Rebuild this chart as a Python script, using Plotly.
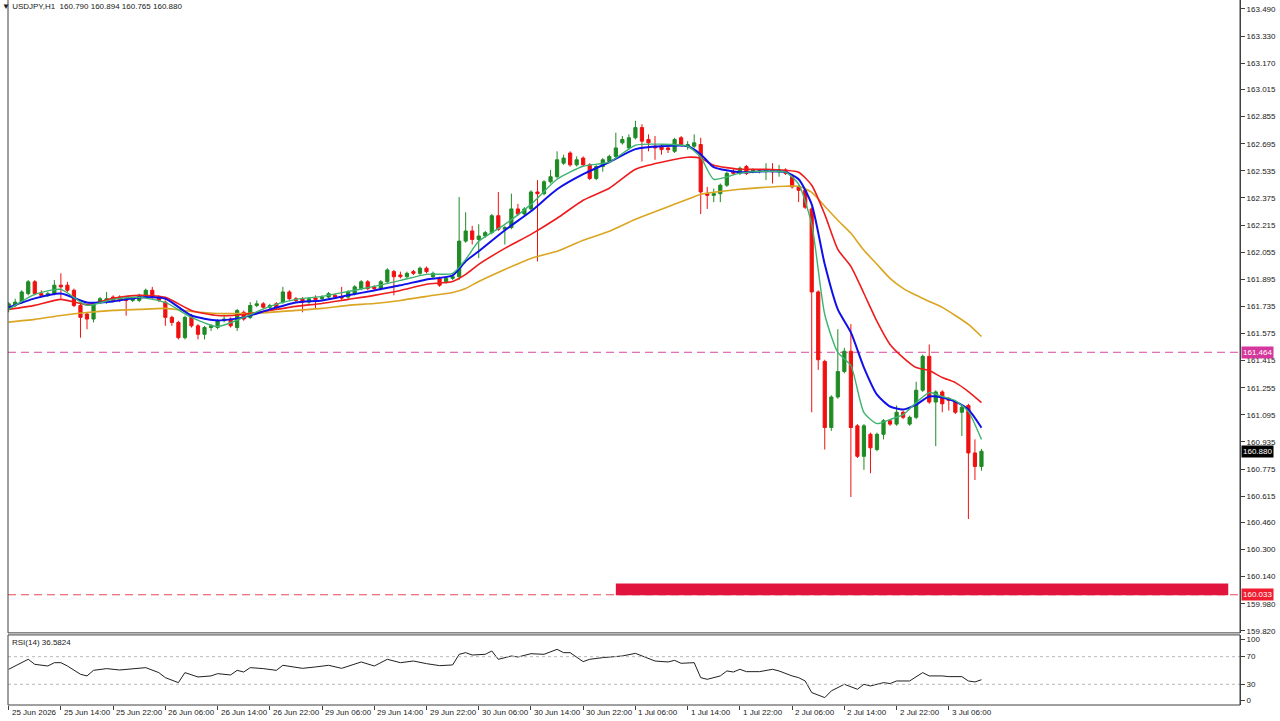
import plotly.graph_objects as go

# ---------------- data ----------------
tick_idx = [0, 8, 16, 24, 32, 40, 48, 56, 64, 72, 80, 88, 96, 104, 112, 120, 128, 136, 144]
tick_text = ["25 Jun 2026", "25 Jun 14:00", "25 Jun 22:00", "26 Jun 06:00", "26 Jun 14:00",
             "26 Jun 22:00", "29 Jun 06:00", "29 Jun 14:00", "29 Jun 22:00", "30 Jun 06:00",
             "30 Jun 14:00", "30 Jun 22:00", "1 Jul 06:00", "1 Jul 14:00", "1 Jul 22:00",
             "2 Jul 06:00", "2 Jul 14:00", "2 Jul 22:00", "3 Jul 06:00"]

open_ = [161.72, 161.74, 161.76, 161.81, 161.88, 161.81, 161.80, 161.81, 161.86, 161.86,
         161.83, 161.74, 161.69, 161.66, 161.76, 161.77, 161.79, 161.79, 161.78, 161.77,
         161.77, 161.79, 161.83, 161.79, 161.76, 161.67, 161.64, 161.55, 161.68, 161.62,
         161.57, 161.61, 161.61, 161.65, 161.66, 161.61, 161.70, 161.67, 161.74, 161.75,
         161.73, 161.75, 161.76, 161.82, 161.78, 161.78, 161.76, 161.785, 161.78, 161.79,
         161.80, 161.79, 161.79, 161.81, 161.84, 161.88, 161.85, 161.84, 161.88, 161.94,
         161.92, 161.91, 161.94, 161.93, 161.96, 161.91, 161.90, 161.88, 161.90, 161.91,
         162.12, 162.18, 162.13, 162.15, 162.17, 162.27, 162.19, 162.20, 162.31, 162.28,
         162.31, 162.41, 162.40, 162.47, 162.50, 162.58, 162.64, 162.57, 162.61, 162.57,
         162.49, 162.56, 162.59, 162.62, 162.70, 162.67, 162.73, 162.79, 162.72, 162.68,
         162.68, 162.67, 162.65, 162.73, 162.68, 162.68, 162.69, 162.40, 162.39, 162.40,
         162.45, 162.53, 162.52, 162.56, 162.53, 162.53, 162.53, 162.54, 162.53, 162.54,
         162.50, 162.44, 162.42, 162.31, 161.82, 161.41, 161.02, 161.20, 161.35, 161.47,
         161.03, 160.85, 160.98, 160.89, 160.98, 161.06, 161.04, 161.11, 161.04, 161.08,
         161.24, 161.44, 161.17, 161.23, 161.19, 161.17, 161.11, 161.15, 160.87, 160.790]
high = [161.76, 161.78, 161.83, 161.89, 161.89, 161.83, 161.82, 161.89, 161.93, 161.88,
        161.84, 161.75, 161.70, 161.76, 161.79, 161.82, 161.80, 161.80, 161.79, 161.79,
        161.81, 161.84, 161.85, 161.80, 161.77, 161.68, 161.65, 161.68, 161.69, 161.63,
        161.62, 161.63, 161.66, 161.68, 161.67, 161.72, 161.71, 161.76, 161.77, 161.76,
        161.75, 161.76, 161.85, 161.83, 161.79, 161.79, 161.79, 161.80, 161.80, 161.82,
        161.81, 161.85, 161.83, 161.86, 161.89, 161.89, 161.86, 161.89, 161.96, 161.95,
        161.94, 161.94, 161.95, 161.97, 161.97, 161.94, 161.91, 161.91, 161.92, 162.38,
        162.29, 162.21, 162.22, 162.18, 162.28, 162.41, 162.21, 162.40, 162.34, 162.32,
        162.42, 162.48, 162.48, 162.54, 162.65, 162.63, 162.65, 162.62, 162.62, 162.58,
        162.57, 162.61, 162.63, 162.76, 162.74, 162.75, 162.83, 162.81, 162.75, 162.74,
        162.69, 162.68, 162.73, 162.74, 162.71, 162.75, 162.73, 162.44, 162.43, 162.46,
        162.53, 162.55, 162.56, 162.57, 162.55, 162.54, 162.58, 162.58, 162.57, 162.55,
        162.51, 162.45, 162.43, 162.32, 161.83, 161.42, 161.21, 161.60, 161.49, 161.63,
        161.04, 161.04, 160.99, 160.99, 161.07, 161.07, 161.15, 161.12, 161.09, 161.29,
        161.45, 161.51, 161.24, 161.24, 161.20, 161.18, 161.15, 161.16, 160.95, 160.894]
low = [161.70, 161.73, 161.75, 161.80, 161.80, 161.79, 161.79, 161.80, 161.78, 161.82,
       161.73, 161.55, 161.60, 161.64, 161.75, 161.75, 161.76, 161.76, 161.68, 161.76,
       161.76, 161.78, 161.78, 161.76, 161.62, 161.62, 161.54, 161.54, 161.61, 161.54,
       161.54, 161.59, 161.60, 161.64, 161.61, 161.59, 161.65, 161.66, 161.73, 161.72,
       161.72, 161.72, 161.75, 161.77, 161.76, 161.70, 161.75, 161.72, 161.77, 161.78,
       161.78, 161.77, 161.78, 161.80, 161.83, 161.83, 161.83, 161.83, 161.87, 161.80,
       161.90, 161.90, 161.92, 161.92, 161.93, 161.90, 161.85, 161.87, 161.89, 161.89,
       162.11, 162.10, 162.02, 162.14, 162.16, 162.18, 162.10, 162.19, 162.27, 162.27,
       162.30, 162.00, 162.39, 162.46, 162.49, 162.57, 162.56, 162.56, 162.56, 162.48,
       162.48, 162.53, 162.58, 162.61, 162.69, 162.66, 162.72, 162.59, 162.65, 162.60,
       162.63, 162.64, 162.64, 162.68, 162.66, 162.67, 162.28, 162.31, 162.35, 162.35,
       162.44, 162.51, 162.51, 162.51, 162.52, 162.52, 162.48, 162.46, 162.50, 162.51,
       162.43, 162.35, 162.31, 161.11, 161.36, 160.89, 161.00, 161.19, 161.34, 160.61,
       160.84, 160.77, 160.75, 160.88, 160.95, 161.03, 161.03, 161.07, 161.03, 161.07,
       161.23, 161.16, 160.91, 161.11, 161.12, 161.10, 160.97, 160.48, 160.71, 160.765]
close = [161.75, 161.76, 161.82, 161.88, 161.81, 161.80, 161.81, 161.86, 161.85, 161.83,
         161.74, 161.67, 161.66, 161.75, 161.78, 161.78, 161.77, 161.77, 161.77, 161.78,
         161.80, 161.83, 161.79, 161.77, 161.67, 161.64, 161.55, 161.67, 161.62, 161.57,
         161.61, 161.62, 161.65, 161.66, 161.62, 161.71, 161.66, 161.74, 161.75, 161.73,
         161.74, 161.73, 161.82, 161.78, 161.77, 161.76, 161.78, 161.775, 161.79, 161.81,
         161.79, 161.785, 161.82, 161.85, 161.88, 161.84, 161.84, 161.88, 161.95, 161.91,
         161.91, 161.93, 161.93, 161.96, 161.94, 161.93, 161.86, 161.90, 161.91, 162.12,
         162.18, 162.13, 162.15, 162.17, 162.27, 162.19, 162.20, 162.31, 162.28, 162.31,
         162.41, 162.40, 162.47, 162.50, 162.60, 162.61, 162.57, 162.60, 162.57, 162.49,
         162.56, 162.60, 162.62, 162.67, 162.72, 162.73, 162.79, 162.71, 162.70, 162.67,
         162.66, 162.66, 162.72, 162.69, 162.69, 162.70, 162.41, 162.39, 162.40, 162.45,
         162.52, 162.52, 162.55, 162.52, 162.54, 162.535, 162.54, 162.53, 162.54, 162.52,
         162.44, 162.42, 162.32, 161.82, 161.42, 161.02, 161.20, 161.35, 161.47, 161.02,
         160.85, 161.03, 160.90, 160.98, 161.06, 161.04, 161.11, 161.08, 161.08, 161.24,
         161.44, 161.17, 161.23, 161.16, 161.18, 161.11, 161.14, 160.87, 160.79, 160.880]

ma_idx = [0, 4, 8, 12, 16, 20, 24, 28, 32, 36, 40, 44, 48, 52, 56, 60, 64, 68, 70, 72,
          76, 80, 84, 88, 92, 96, 100, 104, 106, 108, 112, 116, 119, 121, 123, 125, 127,
          129, 131, 133, 135, 137, 139, 141, 143, 145, 147, 149]
ma_fast = [161.717, 161.806, 161.835, 161.741, 161.776, 161.788, 161.758, 161.670, 161.616,
           161.670, 161.735, 161.776, 161.794, 161.823, 161.853, 161.888, 161.924, 161.930,
           162.012, 162.119, 162.219, 162.337, 162.485, 162.562, 162.586, 162.686, 162.692,
           162.680, 162.615, 162.485, 162.521, 162.532, 162.527, 162.456, 162.219, 161.687,
           161.463, 161.386, 161.108, 161.043, 161.067, 161.096, 161.167, 161.226, 161.203,
           161.179, 161.114, 160.949]
ma_mid = [161.729, 161.782, 161.811, 161.758, 161.764, 161.788, 161.780, 161.681, 161.652,
          161.670, 161.717, 161.758, 161.770, 161.800, 161.829, 161.859, 161.894, 161.918,
          162.001, 162.060, 162.184, 162.296, 162.426, 162.515, 162.586, 162.663, 162.680,
          162.680, 162.633, 162.556, 162.527, 162.532, 162.527, 162.485, 162.337, 161.983,
          161.717, 161.581, 161.374, 161.214, 161.144, 161.126, 161.155, 161.203, 161.197,
          161.173, 161.126, 161.019]
ma_slow = [161.717, 161.741, 161.776, 161.746, 161.782, 161.800, 161.788, 161.711, 161.681,
           161.687, 161.711, 161.735, 161.752, 161.776, 161.800, 161.829, 161.865, 161.882,
           161.924, 161.983, 162.077, 162.160, 162.255, 162.361, 162.432, 162.544, 162.586,
           162.615, 162.609, 162.568, 162.544, 162.544, 162.538, 162.527, 162.450, 162.278,
           162.071, 161.971, 161.811, 161.646, 161.510, 161.433, 161.374, 161.356, 161.315,
           161.285, 161.232, 161.167]
ma_trend = [161.642, 161.658, 161.681, 161.699, 161.711, 161.717, 161.723, 161.705, 161.693,
            161.693, 161.699, 161.711, 161.723, 161.741, 161.752, 161.770, 161.794, 161.817,
            161.841, 161.882, 161.953, 162.018, 162.060, 162.125, 162.178, 162.249, 162.308,
            162.367, 162.396, 162.408, 162.426, 162.438, 162.444, 162.444, 162.408, 162.326,
            162.243, 162.166, 162.066, 161.983, 161.900, 161.841, 161.800, 161.764, 161.729,
            161.681, 161.628, 161.557]

rsi_idx = [0, 3, 4, 6, 7, 8, 9, 11, 12, 13, 15, 17, 21, 23, 24, 26, 27, 29, 31, 32, 34, 35,
           36, 37, 39, 41, 42, 45, 47, 49, 51, 54, 56, 58, 60, 62, 64, 66, 68, 69, 70, 71,
           73, 74, 75, 77, 78, 80, 82, 84, 85, 86, 88, 89, 91, 94, 96, 97, 99, 101, 102,
           103, 105, 106, 107, 109, 110, 111, 112, 113, 115, 117, 118, 120, 121, 122, 123,
           125, 126, 128, 130, 131, 132, 134, 135, 136, 138, 140, 141, 143, 144, 146, 147,
           148, 149]
rsi_val = [51.7, 66.2, 58.9, 56.5, 61.3, 61.3, 56.5, 44.5, 42.1, 50.2, 52.7, 50.7, 54.1,
           46.9, 39.6, 32.4, 46.9, 40.6, 42.1, 45.4, 43.5, 50.2, 47.8, 54.1, 52.7, 50.2,
           57.5, 53.1, 55.1, 57.5, 53.1, 62.3, 56.5, 66.2, 61.3, 63.7, 59.9, 57.0, 58.0,
           73.4, 75.8, 72.4, 73.4, 78.2, 66.2, 71.0, 69.5, 74.3, 73.4, 80.6, 75.8, 75.8,
           62.8, 66.2, 68.6, 71.0, 74.8, 71.0, 63.7, 62.3, 64.7, 60.4, 61.3, 39.6, 37.2,
           42.1, 49.3, 47.8, 51.7, 48.3, 48.3, 51.7, 49.3, 42.1, 39.6, 34.8, 18.0, 10.7,
           20.4, 30.0, 22.8, 30.0, 27.6, 32.4, 31.0, 34.8, 34.8, 46.9, 42.1, 42.1, 41.1,
           41.1, 34.8, 33.4, 36.5824]

price_ticks = [163.490, 163.330, 163.170, 163.015, 162.855, 162.695, 162.535, 162.375,
               162.215, 162.055, 161.895, 161.735, 161.575, 161.415, 161.255, 161.095,
               160.935, 160.775, 160.615, 160.460, 160.300, 160.140, 159.980, 159.820]

level_resist = 161.464
level_support = 160.033
last_price = 160.880
zone_low, zone_high = 160.030, 160.100
zone_start, zone_end = 93, 186.8

# ---------------- figure ----------------
GREEN = "#1f8b24"
RED = "#f01010"
FONT = "Liberation Sans"
n = len(close)

fig = go.Figure()
fig.add_trace(go.Candlestick(
    x=list(range(n)), open=open_, high=high, low=low, close=close,
    increasing=dict(line=dict(color=GREEN, width=1), fillcolor=GREEN),
    decreasing=dict(line=dict(color=RED, width=1), fillcolor=RED),
    whiskerwidth=0, xaxis="x", yaxis="y", showlegend=False, hoverinfo="skip"))

for vals, col, w in [(ma_trend, "#daa520", 1.6), (ma_slow, "#ee1c1c", 1.6),
                     (ma_mid, "#1010e8", 2.0), (ma_fast, "#3cb371", 1.4)]:
    fig.add_trace(go.Scatter(x=ma_idx, y=vals, mode="lines", xaxis="x", yaxis="y",
                             line=dict(color=col, width=w, shape="spline", smoothing=0.6),
                             showlegend=False, hoverinfo="skip"))

fig.add_trace(go.Scatter(x=rsi_idx, y=rsi_val, mode="lines", xaxis="x2", yaxis="y2",
                         line=dict(color="#202020", width=1), showlegend=False,
                         hoverinfo="skip"))

shapes = [
    dict(type="line", xref="paper", x0=0, x1=1, yref="y", y0=level_support, y1=level_support,
         line=dict(color="#e8485a", width=1, dash="8px,5px"), layer="below"),
    dict(type="rect", xref="x", x0=zone_start, x1=zone_end, yref="y", y0=zone_low, y1=zone_high,
         fillcolor="#e0143c", line=dict(width=0), layer="above"),
    dict(type="line", xref="paper", x0=0, x1=1, yref="y", y0=level_resist, y1=level_resist,
         line=dict(color="#d64aa0", width=1, dash="8px,5px"), layer="below"),
    dict(type="line", xref="paper", x0=0, x1=1, yref="y2", y0=70, y1=70,
         line=dict(color="#b8b8b8", width=1, dash="dot")),
    dict(type="line", xref="paper", x0=0, x1=1, yref="y2", y0=30, y1=30,
         line=dict(color="#b8b8b8", width=1, dash="dot")),
    # panel frames
    dict(type="rect", xref="paper", x0=0, x1=1, yref="paper", y0=0.1023, y1=1.01,
         line=dict(color="#404040", width=1), fillcolor="rgba(0,0,0,0)"),
    dict(type="rect", xref="paper", x0=0, x1=1, yref="paper", y0=0, y1=0.0994,
         line=dict(color="#404040", width=1), fillcolor="rgba(0,0,0,0)"),
]

annotations = []
for idx, txt in zip(tick_idx, tick_text):
    annotations.append(dict(x=idx, xref="x2", y=0, yref="paper", yanchor="top",
                            xanchor="left", xshift=1, yshift=-1, text=txt, showarrow=False,
                            font=dict(family=FONT, size=8, color="#202020")))
for val, bg in [(level_resist, "#d4389c"), (last_price, "#000000"), (level_support, "#f01c30")]:
    annotations.append(dict(x=1, xref="paper", xanchor="left", xshift=1, y=val, yref="y",
                            text=f"{val:.3f}", showarrow=False, bgcolor=bg, borderpad=1,
                            font=dict(family=FONT, size=8, color="white")))
annotations.append(dict(x=0, xref="paper", y=1, yref="paper", xanchor="left", yanchor="top",
                        xshift=-8, yshift=0, showarrow=False,
                        text="\u25BC USDJPY,H1  160.790 160.894 160.765 160.880",
                        font=dict(family=FONT, size=8, color="#202020")))
annotations.append(dict(x=0, xref="paper", y=0.0994, yref="paper", xanchor="left",
                        yanchor="top", xshift=2, yshift=-1, showarrow=False,
                        text="RSI(14) 36.5824", font=dict(family=FONT, size=8, color="#202020")))

fig.update_layout(
    width=1280, height=721, margin=dict(l=8, r=40, t=0, b=16, autoexpand=False),
    paper_bgcolor="white", plot_bgcolor="white", showlegend=False,
    xaxis=dict(domain=[0, 1], range=[-0.1, 188.6], anchor="y", showticklabels=False,
               showgrid=False, zeroline=False, rangeslider=dict(visible=False), ticks="",
               automargin=False),
    xaxis2=dict(domain=[0, 1], matches="x", anchor="y2", tickmode="array", tickvals=tick_idx,
                showticklabels=False, ticks="outside", ticklen=4, tickcolor="#404040",
                showgrid=False, zeroline=False, automargin=False),
    yaxis=dict(domain=[0.1023, 1], range=[159.808, 163.543], side="right", tickmode="array",
               tickvals=price_ticks, ticktext=[f"{v:.3f}" for v in price_ticks],
               ticks="outside", ticklen=4, tickcolor="#404040", showline=True,
               linecolor="#404040", showgrid=False, zeroline=False, automargin=False,
               tickfont=dict(family=FONT, size=8, color="#202020")),
    yaxis2=dict(domain=[0, 0.0994], range=[0, 101.5], side="right", tickmode="array",
                tickvals=[7, 30, 70, 95], ticktext=["0", "30", "70", "100"],
                ticks="outside", ticklen=4, tickcolor="#404040", showline=True,
                linecolor="#404040", showgrid=False, zeroline=False, automargin=False,
                tickfont=dict(family=FONT, size=8, color="#202020")),
    shapes=shapes, annotations=annotations,
)

fig.write_html("out.html")
